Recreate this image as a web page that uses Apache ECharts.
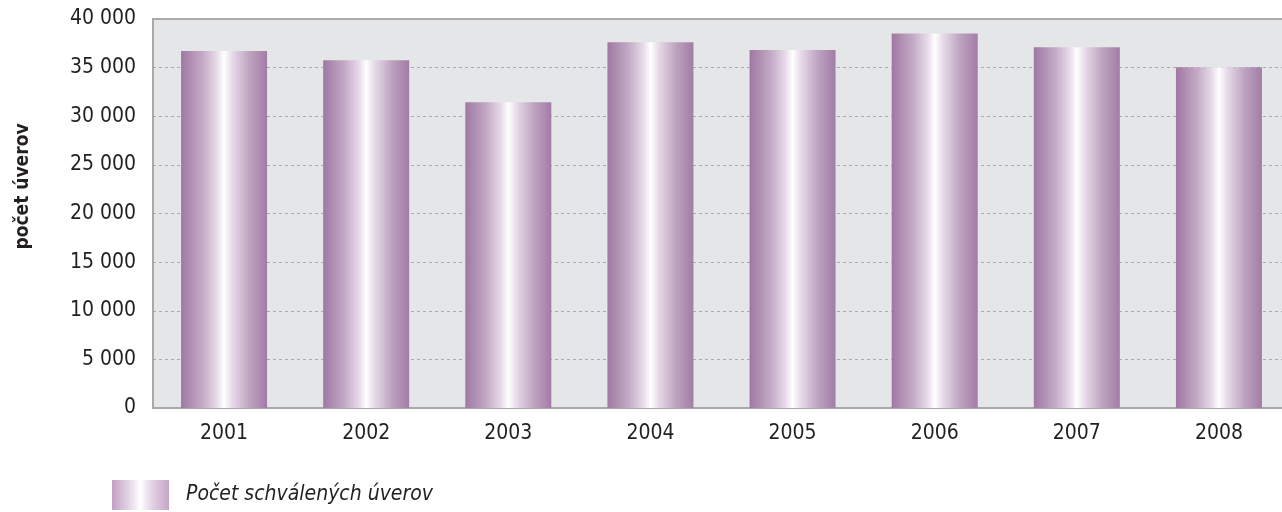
<!DOCTYPE html>
<html>
<head>
<meta charset="utf-8">
<script src="https://cdn.jsdelivr.net/npm/echarts@6/dist/echarts.min.js"></script>
<style>
html,body{margin:0;padding:0;background:#fff;}
#chart{width:1282px;height:512px;}
</style>
</head>
<body>
<div id="chart"></div>
<script>
var categories = ['2001','2002','2003','2004','2005','2006','2007','2008'];
var values = [36700, 35750, 31450, 37600, 36800, 38500, 37100, 35050];
var seriesName = 'Počet schválených úverov';
var yAxisTitle = 'počet úverov';

var FONT = "'DejaVu Sans Condensed', 'Liberation Sans', sans-serif";

function barGradient() {
  return new echarts.graphic.LinearGradient(0, 0, 1, 0, [
    {offset: 0, color: '#9f78a2'},
    {offset: 0.25, color: '#c4aac6'},
    {offset: 0.42, color: '#e8dcea'},
    {offset: 0.5, color: '#ffffff'},
    {offset: 0.6, color: '#e6d9e8'},
    {offset: 0.8, color: '#bda2c0'},
    {offset: 1, color: '#a27ca5'}
  ]);
}
function legendGradient() {
  return new echarts.graphic.LinearGradient(0, 0, 1, 0, [
    {offset: 0, color: '#c29fc4'},
    {offset: 0.3, color: '#e4d6e6'},
    {offset: 0.5, color: '#ffffff'},
    {offset: 0.7, color: '#e2d3e4'},
    {offset: 1, color: '#c5a4c7'}
  ]);
}

var chart = echarts.init(document.getElementById('chart'), null, {renderer: 'canvas'});
chart.setOption({
  animation: false,
  textStyle: {fontFamily: FONT},
  grid: {
    left: 153, top: 19, width: 1137, bottom: 104,
    outerBoundsMode: 'none',
    containLabel: false,
    show: true, backgroundColor: '#e5e6e8',
    borderColor: '#a9a9ab', borderWidth: 2
  },
  legend: {
    left: 112, top: 480, padding: 0,
    itemWidth: 57, itemHeight: 30, itemGap: 10,
    icon: 'rect',
    data: [{name: seriesName, itemStyle: {color: legendGradient()}}],
    textStyle: {fontFamily: FONT, fontSize: 21, fontStyle: 'italic', color: '#231f20', padding: [4,0,0,12]}
  },
  xAxis: {
    type: 'category',
    data: categories,
    axisTick: {show: false},
    axisLine: {lineStyle: {color: '#a9a9ab', width: 2}},
    axisLabel: {fontSize: 21, color: '#231f20', margin: 15, fontFamily: FONT}
  },
  yAxis: {
    type: 'value',
    min: 0, max: 40000, interval: 5000,
    name: yAxisTitle,
    nameLocation: 'middle',
    nameGap: 120,
    nameRotate: 90,
    nameTextStyle: {fontSize: 19, fontWeight: 'bold', color: '#231f20', fontFamily: FONT, padding: [0, 0, 0, 54]},
    axisLine: {show: false},
    axisTick: {show: false},
    axisLabel: {
      fontSize: 21, color: '#231f20', margin: 17, fontFamily: FONT,
      formatter: function (v) { return String(v).replace(/\B(?=(\d{3})+(?!\d))/g, ' '); }
    },
    splitLine: {lineStyle: {color: '#ababab', type: [3, 3], width: 1}}
  },
  series: [{
    name: seriesName,
    type: 'bar',
    data: values,
    barWidth: 86,
    itemStyle: {color: barGradient()}
  }]
});
</script>
</body>
</html>
